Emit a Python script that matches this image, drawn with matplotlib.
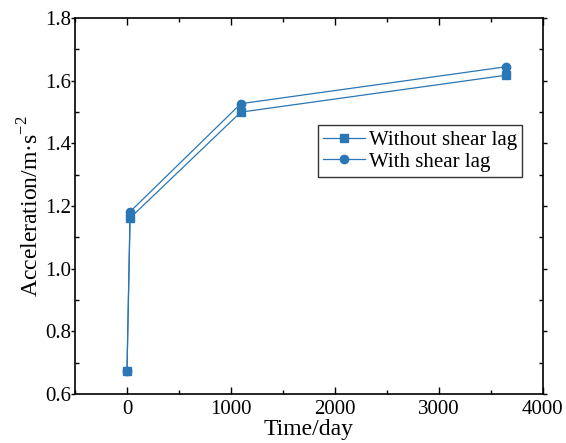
import matplotlib
matplotlib.use("Agg")
from matplotlib import pyplot as plt
from matplotlib.ticker import MultipleLocator

plt.rcParams["font.family"] = ["Liberation Serif", "DejaVu Serif"]
plt.rcParams["mathtext.fontset"] = "custom"
plt.rcParams["mathtext.rm"] = "Liberation Serif"

days = [0, 30, 1095, 3650]
acc_without = [0.672, 1.162, 1.500, 1.618]
acc_with = [0.672, 1.182, 1.527, 1.645]

color = "#2b76b4"

fig = plt.figure(figsize=(5.66, 4.43), dpi=100)
ax = fig.add_axes([0.1325, 0.1106, 0.8265, 0.8484])

ax.plot(days, acc_without, color=color, marker="s", markersize=6, linewidth=0.9,
        label="Without shear lag")
ax.plot(days, acc_with, color=color, marker="o", markersize=6, linewidth=0.9,
        label="With shear lag")

ax.set_xlim(-500, 4000)
ax.set_ylim(0.6, 1.8)
ax.xaxis.set_major_locator(MultipleLocator(1000))
ax.xaxis.set_minor_locator(MultipleLocator(500))
ax.yaxis.set_major_locator(MultipleLocator(0.2))
ax.yaxis.set_minor_locator(MultipleLocator(0.1))
ax.yaxis.set_major_formatter(plt.FuncFormatter(lambda v, p: f"{v:.1f}"))

ax.tick_params(axis="x", which="major", direction="in", length=5, width=1,
               top=True, labelsize=15, pad=4)
ax.tick_params(axis="x", which="minor", direction="in", length=3, width=1, top=True)
ax.tick_params(axis="y", which="major", direction="out", length=3, width=1,
               right=True, labelsize=15, pad=0)
ax.tick_params(axis="y", which="minor", direction="in", length=3, width=1, right=True)
for sp in ax.spines.values():
    sp.set_linewidth(1.2)

ax.set_xlabel("Time/day", fontsize=17, labelpad=0)
ax.set_ylabel("Acceleration/m\u00b7s$^{-2}$", fontsize=17, labelpad=1)

leg = ax.legend(loc="upper left", bbox_to_anchor=(0.519, 0.715), fontsize=15,
                frameon=True, fancybox=False, edgecolor="black",
                handlelength=2.0, handletextpad=0.2, borderpad=0.25, labelspacing=0.1,
                borderaxespad=0)
leg.get_frame().set_linewidth(1.0)

fig.savefig("out.png", dpi=100)
